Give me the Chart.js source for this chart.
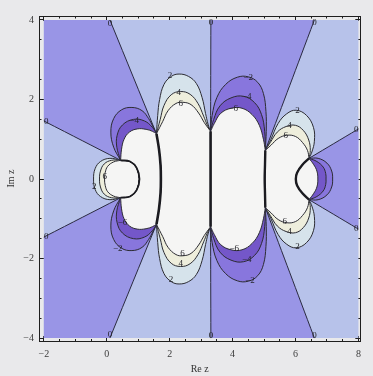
<!DOCTYPE html>
<html lang="en">
<head>
    <meta charset="UTF-8">
    <title>Contour plot - Re z / Im z</title>
    <style>
        body { margin: 0; background: #e9e9eb; }
        #wrap { width: 373px; height: 376px; }
    </style>
    <script src="https://cdn.jsdelivr.net/npm/chart.js"></script>
</head>
<body>
    <div id="wrap"><canvas id="plot" width="373" height="376"></canvas></div>

    <script>
        // Points are [Re z, Im z] for the upper half.
        // The plot is symmetric about the real axis, so the lower half is its mirror.

        // junctions where the contours of neighbouring lobes meet
        const J0 = [0.44, 0.47];
        const J1 = [1.58, 1.14];
        const J2 = [3.30, 1.20];
        const J3 = [5.04, 0.72];
        const J4 = [6.43, 0.52];

        // where the zero contours (rays) leave the frame
        const ray1End = [-2, 1.46];
        const ray3End = [0.10, 4];
        const ray5End = [3.31, 4];
        const ray6End = [6.60, 4];
        const ray7End = [8, 1.26];

        // seams between lobes, from the junction down to the real axis
        const seamAC = [[0.74, 0.44], [0.95, 0.28], [1.04, 0]];
        const seamCB = [[1.66, 0.75], [1.71, 0.35], [1.72, 0]];
        const seamBD = [[3.30, 0.60], [3.30, 0]];
        const seamDE = [[5.03, 0.36], [5.02, 0]];
        const seamEF = [[6.22, 0.36], [6.05, 0.16], [6.01, 0]];

        // contour levels 2, 4, 6 (or -2, -4, -6) of every lobe
        const arcA2 = [[0.10, 0.52], [-0.20, 0.44], [-0.37, 0.26], [-0.42, 0]];
        const arcA4 = [[0.15, 0.47], [-0.08, 0.38], [-0.20, 0.20], [-0.23, 0]];
        const arcA6 = [[0.22, 0.43], [0.03, 0.32], [-0.05, 0.16], [-0.07, 0]];

        const arcC2 = [[0.22, 0.80], [0.13, 1.18], [0.22, 1.52], [0.47, 1.74], [0.80, 1.80], [1.12, 1.72], [1.33, 1.52], [1.48, 1.30]];
        const arcC4 = [[0.32, 0.80], [0.33, 1.10], [0.50, 1.36], [0.85, 1.50], [1.20, 1.46], [1.45, 1.30]];
        const arcC6 = [[0.47, 0.75], [0.55, 1.00], [0.72, 1.18], [0.97, 1.26], [1.25, 1.25], [1.45, 1.20]];

        const arcB2 = [[1.62, 1.60], [1.68, 2.00], [1.82, 2.38], [2.05, 2.58], [2.30, 2.64], [2.60, 2.58], [2.85, 2.40], [3.03, 2.05], [3.14, 1.65], [3.22, 1.38]];
        const arcB4 = [[1.70, 1.50], [1.82, 1.85], [2.05, 2.12], [2.35, 2.20], [2.65, 2.13], [2.90, 1.90], [3.08, 1.58], [3.20, 1.35]];
        const arcB6 = [[1.78, 1.45], [1.95, 1.72], [2.20, 1.90], [2.42, 1.93], [2.68, 1.87], [2.92, 1.66], [3.10, 1.42]];

        const arcD2 = [[3.35, 1.60], [3.50, 2.05], [3.78, 2.38], [4.15, 2.56], [4.50, 2.57], [4.80, 2.43], [4.98, 2.15], [5.06, 1.70], [5.07, 1.20]];
        const arcD4 = [[3.40, 1.50], [3.60, 1.84], [3.95, 2.04], [4.35, 2.08], [4.70, 1.92], [4.92, 1.62], [5.02, 1.20]];
        const arcD6 = [[3.42, 1.40], [3.62, 1.65], [3.95, 1.78], [4.30, 1.78], [4.62, 1.62], [4.85, 1.35], [4.98, 1.00]];

        const arcE2 = [[5.22, 1.00], [5.45, 1.40], [5.72, 1.64], [6.02, 1.73], [6.35, 1.60], [6.57, 1.30], [6.60, 0.95], [6.52, 0.68]];
        const arcE4 = [[5.20, 0.92], [5.42, 1.18], [5.70, 1.32], [6.00, 1.35], [6.25, 1.22], [6.42, 0.98], [6.47, 0.72]];
        const arcE6 = [[5.22, 0.85], [5.45, 1.02], [5.72, 1.10], [6.00, 1.07], [6.22, 0.92], [6.38, 0.72]];

        const arcF2 = [[6.72, 0.52], [7.00, 0.40], [7.15, 0.20], [7.18, 0]];
        const arcF4 = [[6.68, 0.44], [6.88, 0.30], [6.96, 0.14], [6.97, 0]];
        const arcF6 = [[6.58, 0.36], [6.68, 0.20], [6.71, 0]];

        // contour labels [Re z, Im z, text]
        const contourLabels = [
            [0.10, 3.92, '0'], [-1.92, 1.45, '0'], [3.31, 3.93, '0'], [6.60, 3.93, '0'], [7.93, 1.25, '0'],
            [0.10, -3.92, '0'], [-1.92, -1.45, '0'], [3.31, -3.93, '0'], [6.60, -3.93, '0'], [7.93, -1.25, '0'],
            [2.01, 2.60, '2'], [2.29, 2.17, '4'], [2.35, 1.90, '6'],
            [2.04, -2.52, '2'], [2.35, -2.13, '4'], [2.41, -1.88, '6'],
            [4.50, 2.56, '\u22122'], [4.45, 2.06, '\u22124'], [4.02, 1.77, '\u22126'],
            [4.55, -2.55, '\u22122'], [4.45, -2.04, '\u22124'], [4.05, -1.76, '\u22126'],
            [6.06, 1.72, '2'], [5.81, 1.34, '4'], [5.69, 1.09, '6'],
            [6.06, -1.70, '2'], [5.81, -1.33, '4'], [5.66, -1.07, '6'],
            [0.87, 1.47, '\u22124'], [0.50, -1.10, '\u22126'], [0.35, -1.76, '\u22122'],
            [-0.40, -0.18, '2'], [-0.06, 0.05, '6']
        ];

        const xMajor = [-2, 0, 2, 4, 6, 8];
        const yMajor = [-4, -2, 0, 2, 4];

        // colours of the contour bands
        const bandZeroToTwo = '#b7c2ea';
        const bandMinusTwoToZero = '#9995e6';
        const posFill = ['#d6e3eb', '#eeeedc', '#f5f5f4'];
        const negFill = ['#8876dd', '#7457c9', '#f5f5f4'];
        const lineColor = '#2c2c33';

        // ---- helpers ----
        const rev = a => a.slice().reverse();
        const mirror = pts => pts.map(([x, y]) => [x, -y]);
        // upper path runs from one real-axis crossing to the other
        const closedLoop = upper => upper.concat(mirror(rev(upper.slice(0, -1))));
        const seamLine = (j, seam) => [j].concat(seam, mirror(rev(seam).slice(1)), mirror([j]));

        function shape(pts, fillColor, border, width, tension) {
            return {
                data: pts.map(([x, y]) => ({ x, y })),
                showLine: true, fill: 'shape', backgroundColor: fillColor,
                borderColor: border, borderWidth: width, pointRadius: 0, tension: tension
            };
        }
        function line(pts, color, width) {
            return {
                data: pts.map(([x, y]) => ({ x, y })),
                showLine: true, fill: false, borderColor: color, borderWidth: width,
                pointRadius: 0, tension: 0.4
            };
        }

        // ---- lobes ----
        const lobeA = [arcA2, arcA4, arcA6].map(arc => rev(seamAC).concat([J0, J0], arc));
        const lobeC = [arcC2, arcC4, arcC6].map(arc => rev(seamAC).concat([J0, J0], arc, [J1, J1], seamCB));
        const lobeB = [arcB2, arcB4, arcB6].map(arc => rev(seamCB).concat([J1, J1], arc, [J2, J2], seamBD));
        const lobeD = [arcD2, arcD4, arcD6].map(arc => rev(seamBD).concat([J2, J2], arc, [J3, J3], seamDE));
        const lobeE = [arcE2, arcE4, arcE6].map(arc => rev(seamDE).concat([J3, J3], arc, [J4, J4], seamEF));
        const lobeF = [arcF2, arcF4, arcF6].map(arc => rev(seamEF).concat([J4, J4], arc));

        // ---- layers, in drawing order ----
        const layers = [];
        layers.push(shape([[-2, -4], [-2, 4], [8, 4], [8, -4], [-2, -4]], bandZeroToTwo, 'rgba(0,0,0,0)', 0, 0));

        const upperSectors = [
            [ray1End, [-2, 4], ray3End, J1, J0, ray1End],
            [J2, ray5End, ray6End, J3, J2]
        ];
        upperSectors.forEach(s => {
            layers.push(shape(s, bandMinusTwoToZero, 'rgba(0,0,0,0)', 0, 0));
            layers.push(shape(mirror(s), bandMinusTwoToZero, 'rgba(0,0,0,0)', 0, 0));
        });
        layers.push(shape([J4, ray7End, [8, -ray7End[1]], mirror([J4])[0], J4], bandMinusTwoToZero, 'rgba(0,0,0,0)', 0, 0));

        [lobeA, lobeB, lobeE].forEach(lobe => lobe.forEach((path, k) =>
            layers.push(shape(closedLoop(path), posFill[k], lineColor, 1, 0.4))));
        [lobeC, lobeD, lobeF].forEach(lobe => lobe.forEach((path, k) =>
            layers.push(shape(closedLoop(path), negFill[k], lineColor, 1, 0.4))));

        // seams look like heavy black strokes where the contours pile up
        [[J0, seamAC, 1.8], [J1, seamCB, 2.6], [J2, seamBD, 2.6], [J3, seamDE, 2.4], [J4, seamEF, 2.4]].forEach(([j, s, w]) =>
            layers.push(line(seamLine(j, s), '#1b1b20', w)));

        // zero contours
        [[ray1End, J0], [ray3End, J1], [ray5End, J2], [ray6End, J3], [ray7End, J4]].forEach(r => {
            layers.push(line(r, '#2a2a40', 1));
            layers.push(line(mirror(r), '#2a2a40', 1));
        });

        layers.forEach((ds, i) => { ds.order = layers.length - i; });

        // ---- axes: a Mathematica-like frame with inward ticks ----
        const fmt = v => String(v).replace('-', '\u2212');
        function tickList(from, to) {
            const out = [];
            for (let v = from; v <= to + 1e-9; v += 0.5) out.push(v);
            return out;
        }
        function frameAxis(key, position, min, max, majors, size, withLabels, padding, title) {
            const innerFirst = position === 'left' || position === 'top';
            const values = tickList(majors[0], majors[majors.length - 1]);
            return {
                type: 'linear', axis: key, position: position, min: min, max: max,
                afterBuildTicks: s => { s.ticks = values.map(v => ({ value: v })); },
                afterFit: s => { if (key === 'x') s.height = size; else s.width = size; },
                grid: {
                    drawOnChartArea: false, tickLength: -5, tickWidth: 1, tickColor: '#1e1e1e',
                    tickBorderDash: c => (c.tick && majors.includes(c.tick.value)) ? [] : (innerFirst ? [0, 2.5, 3.5, 10] : [3, 10])
                },
                border: { display: true, color: '#1e1e1e', width: 1 },
                ticks: {
                    display: withLabels, autoSkip: false, maxRotation: 0, padding: padding,
                    color: '#3c3c3c', font: { family: 'Liberation Serif', size: 10 },
                    callback: v => majors.includes(v) ? fmt(v) : ''
                },
                title: title || { display: false }
            };
        }

        const xMin = -2.154, xMax = 8.06, yMin = -4.074, yMax = 4.1;

        // contour labels sit on top of everything
        const labelPlugin = {
            id: 'contourLabels',
            afterDatasetsDraw(chart) {
                const { ctx, scales } = chart;
                ctx.save();
                ctx.font = '9px "Liberation Serif"';
                ctx.fillStyle = '#26262c';
                ctx.textAlign = 'center';
                ctx.textBaseline = 'middle';
                contourLabels.forEach(([x, y, t]) => {
                    ctx.fillText(t, scales.x.getPixelForValue(x), scales.y.getPixelForValue(y));
                });
                ctx.restore();
            }
        };

        new Chart(document.getElementById('plot'), {
            type: 'scatter',
            data: { datasets: layers },
            options: {
                responsive: false,
                animation: false,
                events: [],
                layout: { padding: 0 },
                plugins: { legend: { display: false }, tooltip: { enabled: false } },
                scales: {
                    x: frameAxis('x', 'bottom', xMin, xMax, xMajor, 35, true, 12,
                        { display: true, text: 'Re z', color: '#333', font: { family: 'Liberation Serif', size: 10 }, padding: { top: 0, bottom: 1 } }),
                    x2: frameAxis('x', 'top', xMin, xMax, xMajor, 10, false, 0),
                    y: frameAxis('y', 'left', yMin, yMax, yMajor, 39, true, 10,
                        { display: true, text: 'Im z', color: '#333', font: { family: 'Liberation Serif', size: 10 }, padding: { top: 5, bottom: 0 } }),
                    y2: frameAxis('y', 'right', yMin, yMax, yMajor, 4, false, 0)
                }
            },
            plugins: [labelPlugin]
        });
    </script>
</body>
</html>
